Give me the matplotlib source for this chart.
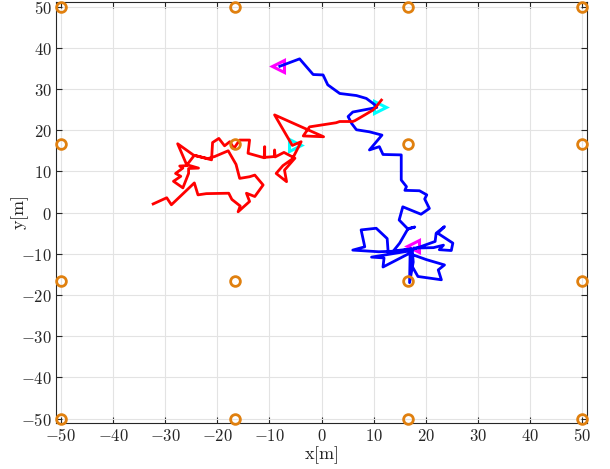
import matplotlib
matplotlib.use("Agg")
import matplotlib.pyplot as plt
from matplotlib.ticker import FuncFormatter

plt.rcParams['mathtext.fontset'] = 'cm'

# Anchor (orange circle) grid positions
anchor_vals = [-50, -50/3, 50/3, 50]

# Red trajectory
red_x = [-32.3, -29.7, -28.8, -24.4, -23.7, -22.1, -17.8, -17.2, -15.6, -16.0, -13.8, -14.4,
         -12.8, -11.2, -12.8, -13.8, -15.7, -16.4, -17.9, -20.5, -21.8, -24.5, -27.6, -25.8,
         -27.2, -26.6, -28.0, -27.0, -28.4, -26.6, -25.5, -25.5, -23.6, -25.8, -24.4, -21.1,
         -20.9, -19.7, -18.6, -17.6, -16.8, -15.7, -13.8, -14.1, -11.0, -10.9, -10.9, -9.0,
         -9.0, -8.9, -7.2, -5.1, -7.1, -6.7, -8.7, -7.4, -5.6, -3.9, -5.6, -9.0, 0.4, -3.5,
         -2.3, 2.8, 3.5, 6.0, 6.4, 8.3, 9.9, 10.5, 10.8, 11.5]
red_y = [2.1, 3.6, 1.9, 7.2, 4.3, 4.6, 4.7, 3.2, 1.6, 0.2, 2.7, 4.7,
         3.9, 6.7, 9.1, 8.7, 8.3, 11.7, 15.0, 13.6, 13.1, 13.9, 16.7, 11.4,
         11.3, 10.8, 9.5, 8.8, 7.6, 6.0, 9.5, 10.7, 10.8, 11.6, 13.9, 12.8,
         17.0, 18.0, 16.2, 17.2, 15.6, 17.6, 17.6, 14.4, 13.3, 16.0, 13.4, 13.6,
         15.2, 13.5, 14.6, 13.2, 10.3, 7.5, 9.5, 11.4, 13.0, 17.2, 16.3, 23.7, 18.4, 18.6,
         20.8, 21.8, 22.1, 22.1, 22.3, 23.7, 24.9, 25.7, 26.2, 27.3]

# Blue trajectory
blue_x = [-8.0, -4.2, -1.6, 0.3, 1.2, 3.5, 6.7, 8.6, 10.2, 10.6, 6.0, 5.1, 5.8, 6.7, 9.2,
          11.6, 9.2, 11.1, 11.8, 15.3, 15.3, 16.3, 16.0, 18.8, 20.2, 19.8, 20.7, 19.1, 15.6,
          14.9, 16.6, 17.9, 16.6, 15.0, 13.8, 17.3, 12.8, 12.6, 10.5, 7.6, 8.3, 6.0, 11.0,
          17.4, 9.6, 12.0, 11.8, 17.3, 17.2, 18.5, 23.0, 22.4, 23.6, 20.1, 17.0, 16.9, 17.6,
          17.4, 21.8, 22.0, 23.6, 22.3, 25.2, 24.9, 22.6, 23.4, 21.5, 17.8]
blue_y = [35.5, 37.3, 33.5, 33.4, 31.0, 28.9, 28.4, 27.7, 26.2, 25.5, 24.4, 23.3, 21.6, 20.1,
          19.6, 18.8, 15.2, 16.0, 14.1, 14.0, 7.9, 6.3, 5.4, 5.3, 4.3, 3.3, 1.0, -0.4, 1.4,
          -1.8, -4.0, -3.5, -3.9, -7.4, -9.3, -8.8, -9.8, -6.3, -3.8, -4.2, -8.3, -9.1, -9.5,
          -9.2, -10.8, -11.0, -13.2, -9.6, -12.6, -15.5, -16.3, -13.9, -12.7, -11.4, -10.0,
          -17.0, -12.0, -9.0, -7.0, -5.0, -3.4, -5.0, -7.4, -9.2, -9.0, -7.9, -8.5, -8.6]

# Triangle markers
cyan_x = [11.3, -5.0]
cyan_y = [25.5, 16.5]
magenta_x = [-8.3, 17.5]
magenta_y = [35.6, -8.1]

ticks = [-50, -40, -30, -20, -10, 0, 10, 20, 30, 40, 50]

fig = plt.figure(figsize=(6.10, 4.69), dpi=100)
ax = fig.add_axes([0.0913, 0.0985, 0.8715, 0.8964])

ax.plot(magenta_x, magenta_y, linestyle='none', marker='<', markersize=8,
        markerfacecolor='none', markeredgecolor='#FF00FF', markeredgewidth=2.2, zorder=2.5)
ax.plot(cyan_x, cyan_y, linestyle='none', marker='>', markersize=8,
        markerfacecolor='none', markeredgecolor='#00FFFF', markeredgewidth=2.2, zorder=2.5)

ax.plot(blue_x, blue_y, color='#0000FF', lw=2.0, zorder=3)
ax.plot(red_x, red_y, color='#FF0000', lw=2.0, zorder=3)

ax_x = [a for a in anchor_vals for _ in anchor_vals]
ax_y = [b for _ in anchor_vals for b in anchor_vals]
ax.plot(ax_x, ax_y, linestyle='none', marker='o', markersize=7,
        markerfacecolor='none', markeredgecolor='#E0800F', markeredgewidth=2,
        zorder=5, clip_on=False)

ax.set_xlim(-51, 51)
ax.set_ylim(-51, 51)
ax.set_xticks(ticks)
ax.set_yticks(ticks)
fmt = FuncFormatter(lambda v, p: r'$%d$' % int(round(v)))
ax.xaxis.set_major_formatter(fmt)
ax.yaxis.set_major_formatter(fmt)
ax.tick_params(direction='in', length=4, width=0.8, top=True, right=True,
               labelsize=12, colors='#262626', pad=3)
ax.grid(True, color='#E3E3E3', linewidth=0.8)
ax.set_axisbelow(True)
for s in ax.spines.values():
    s.set_linewidth(0.8)
    s.set_color('#262626')

ax.set_xlabel(r'$\mathrm{x[m]}$', fontsize=13, color='#262626')
ax.set_ylabel(r'$\mathrm{y[m]}$', fontsize=13, color='#262626')
ax.xaxis.set_label_coords(0.5, -0.05)
ax.yaxis.set_label_coords(-0.046, 0.5)

fig.savefig('out.png', dpi=100)
